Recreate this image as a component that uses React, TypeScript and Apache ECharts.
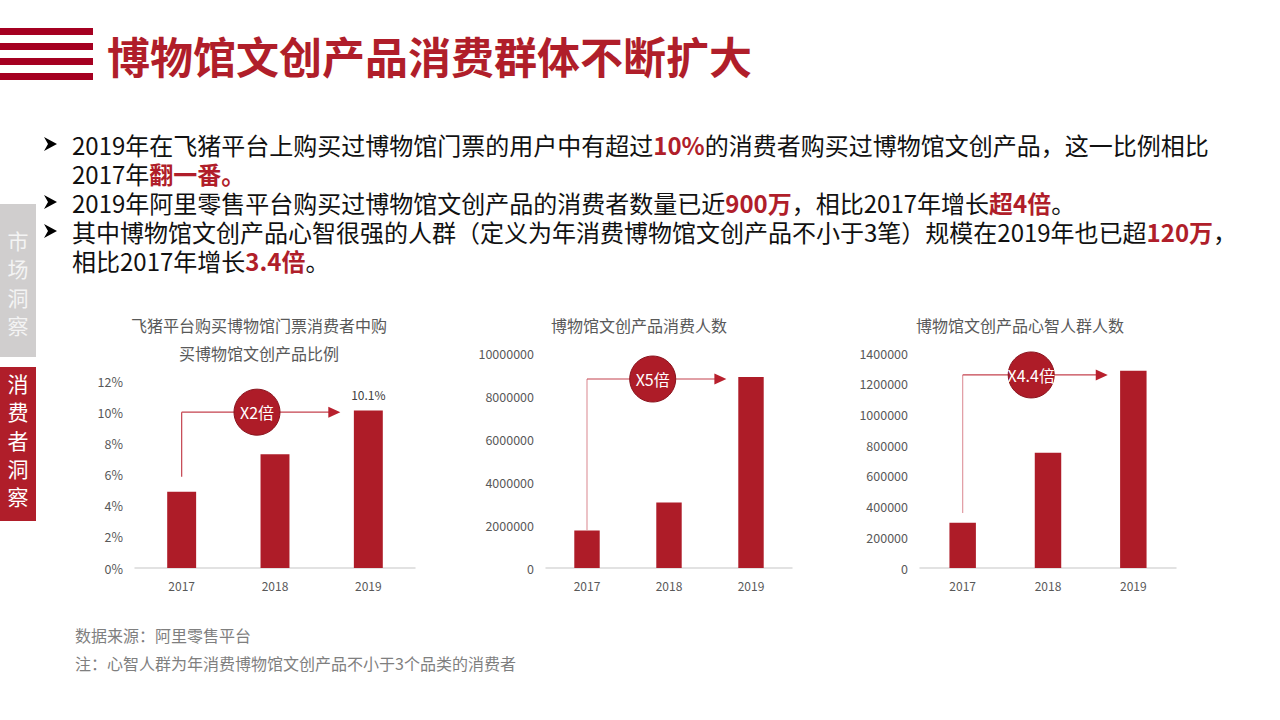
import React, { useEffect, useRef } from "react";
import * as echarts from "echarts";

const categories = ["2017", "2018", "2019"];
const ratioValues = [4.9, 7.3, 10.1];
const buyerValues = [1750000, 3050000, 8880000];
const mindValues = [295000, 750000, 1285000];
const multipliers = ["X2倍", "X5倍", "X4.4倍"];
const arrowStartValues = [5.85, 1770000, 358000];
const arrowLevelValues = [10.0, 8790000, 1257000];
const yMax = [12, 10000000, 1400000];
const yInterval = [2, 2000000, 200000];
const chartTitles = [
  "飞猪平台购买博物馆门票消费者中购\n买博物馆文创产品比例",
  "博物馆文创产品消费人数",
  "博物馆文创产品心智人群人数",
];
const mainTitle = "博物馆文创产品消费群体不断扩大";
const bulletLines = [
  "2019年在飞猪平台上购买过博物馆门票的用户中有超过{r|10%}的消费者购买过博物馆文创产品，这一比例相比",
  "2017年{r|翻一番。}",
  "2019年阿里零售平台购买过博物馆文创产品的消费者数量已近{r|900万}，相比2017年增长{r|超4倍}。",
  "其中博物馆文创产品心智很强的人群（定义为年消费博物馆文创产品不小于3笔）规模在2019年也已超{r|120万}，",
  "相比2017年增长{r|3.4倍}。",
];
const bulletMarks = [true, false, true, true, false];
const sideTabs = ["市场洞察", "消费者洞察"];
const footnotes = ["数据来源：阿里零售平台", "注：心智人群为年消费博物馆文创产品不小于3个品类的消费者"];

const FONT = "'Noto Sans CJK SC', 'Noto Sans', sans-serif";
const RED = "#AE1C28";

export default function App() {
  const ref = useRef<HTMLDivElement>(null);
  useEffect(() => {
    if (!ref.current) return;
    const chart = echarts.init(ref.current, null, { renderer: "svg" });
    const grids = [
      { left: 135, top: 381, width: 280, height: 187 },
      { left: 546, top: 353, width: 246, height: 215 },
      { left: 920, top: 353, width: 256, height: 215 },
    ];
    const seriesData = [
      ratioValues.map((v, i) =>
        i === 2
          ? { value: v, label: { show: true, position: "top", distance: 10, formatter: "{c}%", color: "#404040", fontSize: 12, fontFamily: FONT } }
          : v
      ),
      buyerValues,
      mindValues,
    ];
    chart.setOption({
      animation: false,
      backgroundColor: "#ffffff",
      grid: grids,
      xAxis: grids.map((_, i) => ({
        type: "category",
        gridIndex: i,
        data: categories,
        axisLine: { lineStyle: { color: "#D9D9D9", width: 1.5 } },
        axisTick: { show: false },
        axisLabel: { color: "#595959", fontSize: 12, margin: 11, fontFamily: FONT },
      })),
      yAxis: grids.map((_, i) => ({
        type: "value",
        gridIndex: i,
        min: 0,
        max: yMax[i],
        interval: yInterval[i],
        axisLine: { show: false },
        axisTick: { show: false },
        splitLine: { show: false },
        axisLabel: {
          color: "#595959",
          fontSize: 12.5,
          margin: 12,
          fontFamily: FONT,
          formatter: (v: number) => (i === 0 ? `${v}%` : String(v)),
        },
      })),
      series: grids.map((_, i) => ({
        type: "bar",
        xAxisIndex: i,
        yAxisIndex: i,
        barWidth: "31%",
        data: seriesData[i],
        itemStyle: { color: RED },
      })),
    });

    const g: any[] = [];
    [28, 43, 58, 73].forEach((y) =>
      g.push({ type: "rect", shape: { x: 0, y, width: 93, height: 7 }, style: { fill: "#A50021" } })
    );
    g.push({
      type: "text",
      x: 107,
      y: 55,
      style: { text: mainTitle, fill: "#B01E2A", font: `bold 43px ${FONT}`, verticalAlign: "middle" },
    });
    g.push({ type: "rect", shape: { x: 0, y: 204, width: 36, height: 153 }, style: { fill: "#D0CECE" } });
    g.push({ type: "rect", shape: { x: 0, y: 367, width: 36, height: 154 }, style: { fill: "#B01E2A" } });
    g.push({
      type: "text",
      x: 18,
      y: 226,
      style: { text: sideTabs[0].split("").join("\n"), fill: "#F4F4F4", font: `21px ${FONT}`, lineHeight: 28.3, align: "center" },
    });
    g.push({
      type: "text",
      x: 18,
      y: 369,
      style: { text: sideTabs[1].split("").join("\n"), fill: "#FFFFFF", font: `21px ${FONT}`, lineHeight: 28.3, align: "center" },
    });
    const lineY = [144, 173, 202, 231, 260];
    bulletLines.forEach((t, i) => {
      const y = lineY[i];
      if (bulletMarks[i]) {
        g.push({
          type: "polygon",
          shape: { points: [[44, y - 7], [57, y], [44, y + 7], [48, y]] },
          style: { fill: "#000000" },
        });
      }
      g.push({
        type: "text",
        x: 72,
        y,
        style: {
          text: t,
          fill: "#111111",
          font: `24px ${FONT}`,
          lineHeight: 24,
          verticalAlign: "middle",
          rich: { r: { fill: "#B01E2A", fontWeight: "bold", fontSize: 24, lineHeight: 24, fontFamily: FONT } },
        },
      });
    });
    const titlePos = [
      [259, 311],
      [639, 311],
      [1020, 311],
    ];
    chartTitles.forEach((t, i) =>
      g.push({
        type: "text",
        x: titlePos[i][0],
        y: titlePos[i][1],
        style: { text: t, fill: "#595959", font: `16px ${FONT}`, align: "center", lineHeight: 28 },
      })
    );
    for (let i = 0; i < 3; i++) {
      const f = { xAxisIndex: i, yAxisIndex: i };
      const p0 = chart.convertToPixel(f, [0, arrowStartValues[i]]) as number[];
      const p1 = chart.convertToPixel(f, [0, arrowLevelValues[i]]) as number[];
      const p2 = chart.convertToPixel(f, [2, arrowLevelValues[i]]) as number[];
      const catW = (p2[0] - p0[0]) / 2;
      const endX = p2[0] - 0.3 * catW;
      const midX = (p0[0] + endX) / 2 - 4;
      const ly = p1[1];
      g.push({
        type: "line",
        shape: { x1: p0[0], y1: p0[1], x2: p0[0], y2: ly },
        style: { stroke: i === 0 ? "#C4424E" : "#E09AA1", lineWidth: 1.2 },
      });
      g.push({
        type: "line",
        shape: { x1: p0[0], y1: ly, x2: endX - 10, y2: ly },
        style: { stroke: "#C4424E", lineWidth: 1.2 },
      });
      g.push({
        type: "polygon",
        shape: { points: [[endX - 12, ly - 5.5], [endX, ly], [endX - 12, ly + 5.5]] },
        style: { fill: "#B8202D" },
      });
      g.push({
        type: "circle",
        shape: { cx: midX, cy: ly, r: 23 },
        style: { fill: RED, stroke: "#8A141E", lineWidth: 1 },
      });
      g.push({
        type: "text",
        x: midX,
        y: ly,
        style: { text: multipliers[i], fill: "#FFFFFF", font: `16px ${FONT}`, align: "center", verticalAlign: "middle" },
      });
    }
    footnotes.forEach((t, i) =>
      g.push({
        type: "text",
        x: 75,
        y: 635 + i * 28,
        style: { text: t, fill: "#7F7F7F", font: `16px ${FONT}`, verticalAlign: "middle" },
      })
    );
    chart.setOption({ graphic: g });
    return () => chart.dispose();
  }, []);
  return (
    <div
      ref={ref}
      style={{ position: "absolute", left: 0, top: 0, width: 1280, height: 720, background: "#fff" }}
    />
  );
}
